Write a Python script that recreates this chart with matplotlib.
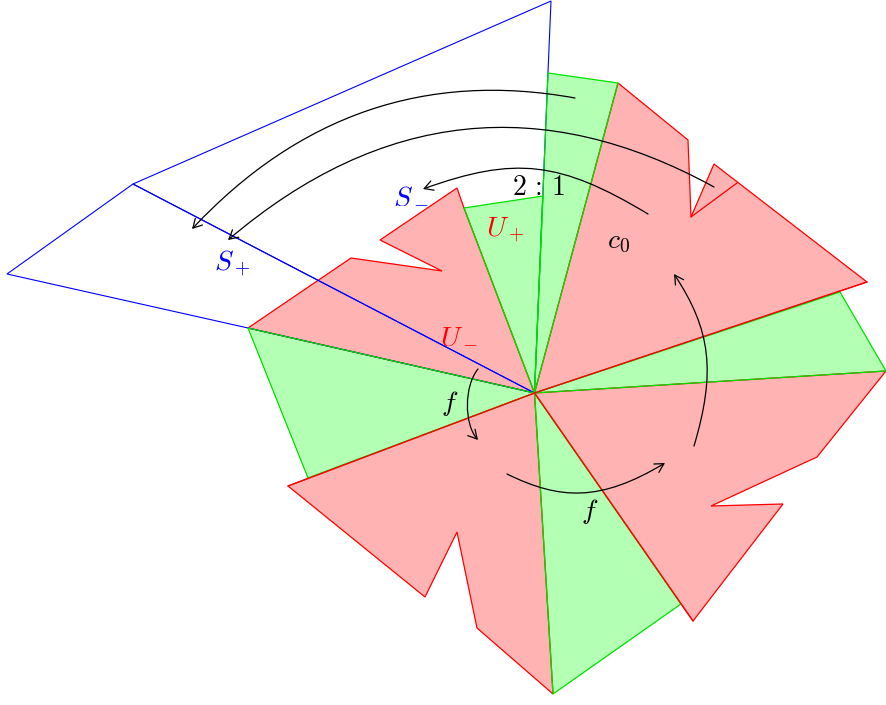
import matplotlib
matplotlib.use("Agg")
import matplotlib.pyplot as plt
from matplotlib.patches import Polygon, FancyArrowPatch
from matplotlib.path import Path

plt.rcParams['mathtext.fontset'] = 'cm'

# picture coordinates (pixels, y grows downwards)
center = (534.5, 393)

# blue sets S_- and S_+
s_minus = [(551, 1), (133, 184), center]
s_plus = [(133, 184), (7, 274), (248, 328), center]

# green wedges
green_left = [center, (248, 328), (308, 478)]
green_top_small = [center, (464, 208), (543, 196)]
green_top = [center, (548, 73), (618, 83)]
green_right = [center, (840, 292), (886, 371)]
green_bottom = [center, (553, 694), (681, 604)]

# red pieces
red_upper_left = [center, (248, 328), (351, 258), (442, 271), (380, 240), (457, 188), (464, 208)]
red_upper_right = [center, (618, 83), (688, 140), (691, 217), (714, 164), (867, 282)]
red_inner_edge = [(691, 217), (737, 183)]
red_lower_right = [center, (886, 371), (817, 457), (711, 506), (783, 504), (693, 621)]
red_lower_left = [center, (288, 486), (425, 597), (457, 532), (477, 628), (553, 694)]

# arrows: start, control 1, control 2, end
arc_outer = [(575, 98), (426, 71), (299, 115), (192, 229)]
arc_middle = [(714, 187), (543, 93), (381, 110), (228, 240)]
arc_inner = [(648, 214), (560, 161), (515, 156), (423, 189)]
arc_right = [(694, 446), (716, 372), (711, 330), (674, 274)]
arc_bottom = [(507, 474), (560, 500), (600, 502), (665, 463)]
arc_small = [(478, 369), (464, 386), (464, 424), (478, 440)]

labels = [
    (r'$2\,:\,1$', 539, 187, 'black'),
    (r'$c_0$', 618, 241, 'black'),
    (r'$U_+$', 505, 230, 'red'),
    (r'$U_-$', 459, 334, 'red'),
    (r'$f$', 450, 404, 'black'),
    (r'$f$', 590, 511, 'black'),
    (r'$S_-$', 411, 194, 'blue'),
    (r'$S_+$', 232, 264, 'blue'),
]

GREEN_FILL = '#b3ffb3'
RED_FILL = '#ffb3b3'

fig = plt.figure(figsize=(8.86, 7.05), dpi=100)
ax = fig.add_axes([0, 0, 1, 1])
ax.set_xlim(0, 886)
ax.set_ylim(705, 0)
ax.axis('off')

greens = [green_left, green_top_small, green_top, green_right, green_bottom]
reds = [red_upper_left, red_upper_right, red_lower_right, red_lower_left]

for g in greens:
    ax.add_patch(Polygon(g, closed=True, facecolor=GREEN_FILL, edgecolor='none', zorder=1))
for r in reds:
    ax.add_patch(Polygon(r, closed=True, facecolor=RED_FILL, edgecolor='red', lw=0.9, zorder=2))
ax.plot(*zip(*red_inner_edge), color='red', lw=0.9, zorder=2)

# blue outlines
for s in [s_minus, s_plus]:
    ax.add_patch(Polygon(s, closed=True, facecolor='none', edgecolor='blue', lw=0.8, zorder=3))

# green outlines on top
for g in greens:
    ax.add_patch(Polygon(g, closed=True, facecolor='none', edgecolor='#00e000', lw=0.9, zorder=4))

# red spokes that lie over green sides
for p in [red_upper_right[-1], red_lower_right[-1], red_lower_left[1]]:
    ax.plot([center[0], p[0]], [center[1], p[1]], color='red', lw=0.9, zorder=5)

codes = [Path.MOVETO, Path.CURVE4, Path.CURVE4, Path.CURVE4]
for arc in [arc_outer, arc_middle, arc_inner, arc_right, arc_bottom, arc_small]:
    arrow = FancyArrowPatch(path=Path(arc, codes), arrowstyle='->,head_length=0.45,head_width=0.25',
                            mutation_scale=14, color='black', lw=0.9, zorder=6)
    ax.add_patch(arrow)

for txt, x, y, c in labels:
    ax.text(x, y, txt, color=c, fontsize=20, ha='center', va='center', zorder=7)

fig.savefig('out.png', dpi=100)
